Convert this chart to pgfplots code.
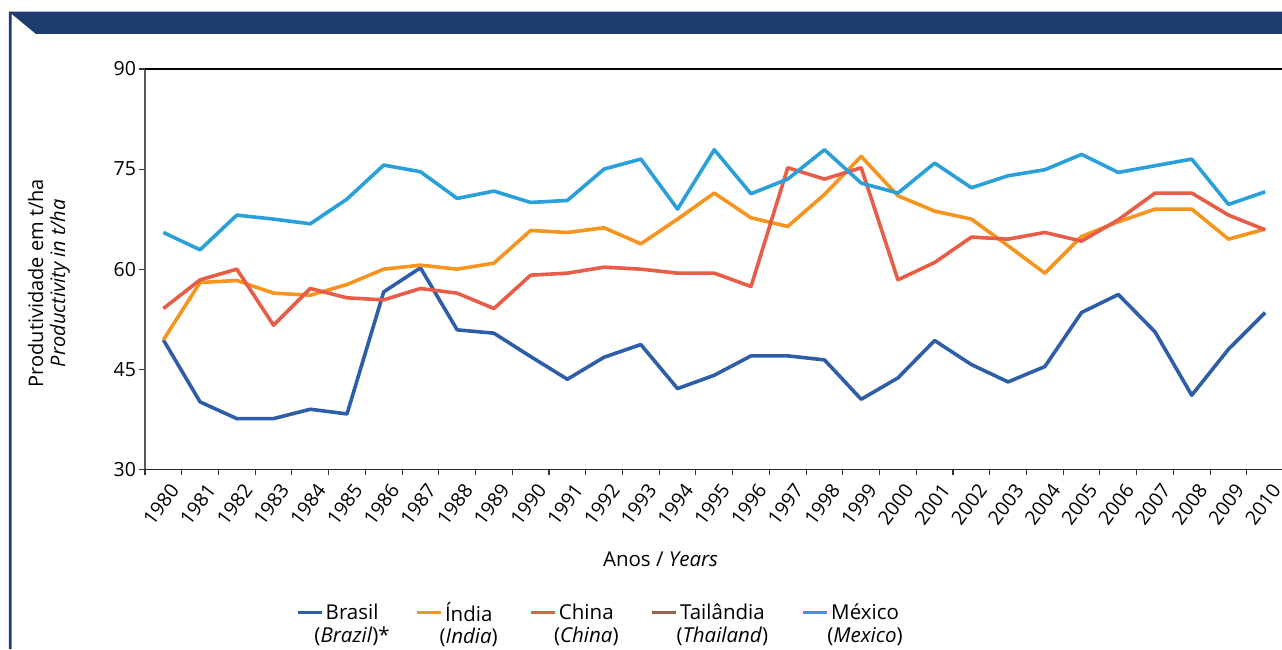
\documentclass[border=0pt]{standalone}
\usepackage{pgfplots}
\usepackage{pgfplotstable}
\pgfplotsset{compat=1.18}
\usepackage{fontspec}
\setmainfont{Open Sans}
\definecolor{cbr}{RGB}{47,94,168}
\definecolor{cin}{RGB}{247,148,30}
\definecolor{cch}{RGB}{232,93,72}
\definecolor{cth}{RGB}{150,100,80}
\definecolor{cmx}{RGB}{41,160,217}
\definecolor{navy}{RGB}{30,60,110}
\pgfplotstableread{
x br in ch mx
0 49.4 49.4 54.1 65.5
1 40.1 58.0 58.4 62.9
2 37.6 58.3 60.0 68.1
3 37.6 56.4 51.6 67.5
4 39.0 56.1 57.1 66.8
5 38.3 57.7 55.7 70.5
6 56.6 60.0 55.4 75.6
7 60.2 60.6 57.1 74.6
8 50.9 60.0 56.4 70.6
9 50.4 60.9 54.1 71.7
10 46.9 65.8 59.1 70.0
11 43.5 65.5 59.4 70.3
12 46.8 66.2 60.3 75.0
13 48.7 63.8 60.0 76.5
14 42.1 67.5 59.4 69.0
15 44.1 71.4 59.4 77.9
16 47.0 67.7 57.4 71.3
17 47.0 66.4 75.2 73.5
18 46.4 71.2 73.5 77.9
19 40.5 76.9 75.2 72.9
20 43.7 71.0 58.4 71.4
21 49.3 68.7 61.0 75.9
22 45.7 67.5 64.8 72.2
23 43.1 63.5 64.5 74.0
24 45.4 59.4 65.5 74.9
25 53.5 64.9 64.2 77.2
26 56.2 67.1 67.4 74.5
27 50.6 69.0 71.4 75.5
28 41.1 69.0 71.4 76.5
29 48.0 64.5 68.1 69.7
30 53.5 66.0 65.9 71.6
}\data
\begin{document}
\begin{tikzpicture}
\path[use as bounding box] (-145pt,-179.7pt) rectangle (1137pt,469.3pt);
\fill[navy] (-136pt,457.6pt) -- (1137pt,457.6pt) -- (1137pt,435.3pt) -- (-109pt,435.3pt) -- (-133.3pt,455.3pt) -- (-133.3pt,-179.7pt) -- (-136pt,-179.7pt) -- cycle;
\begin{axis}[
  at={(0pt,0pt)}, anchor=south west,
  scale only axis, width=1138.6pt, height=400.3pt,
  xmin=-0.5, xmax=30.5, ymin=30, ymax=90,
  clip=false,
  axis x line*=bottom, axis y line*=left,
  x axis line style={-, draw=black!85, line width=1.2pt},
  y axis line style={-, draw=black!65, line width=1.3pt},
  xtick={-0.5,0.5,...,30.5},
  xticklabels={1980,1981,1982,1983,1984,1985,1986,1987,1988,1989,1990,1991,1992,1993,1994,1995,1996,1997,1998,1999,2000,2001,2002,2003,2004,2005,2006,2007,2008,2009,2010,{}},
  xticklabel style={font=\fontsize{19.5}{19.5}\selectfont, xshift=23.5pt, yshift=-6pt, rotate=53, anchor=north east, inner sep=1pt},
  ytick={30,45,60,75,90},
  yticklabel style={font=\fontsize{19.5}{19.5}\selectfont},
  tick align=outside, major tick length=5.5pt,
  tick style={black!80, line width=1.1pt},
  /pgf/number format/assume math mode=true,
  ylabel={Produtividade em t/ha\\\textit{Productivity in t/ha}},
  ylabel style={align=center, font=\fontsize{20}{22}\selectfont, at={(axis description cs:-0.0843,0.465)}, anchor=center},
  xlabel={Anos / \textit{Years}},
  xlabel style={font=\fontsize{20.5}{22}\selectfont, at={(axis description cs:0.4528,-0.2256)}, anchor=center},
  legend columns=5,
  legend style={at={(axis description cs:0.13,-0.3215)}, anchor=north west, draw=none, fill=none,
    font=\fontsize{20.5}{22.5}\selectfont,
    /tikz/every even column/.append style={column sep=35pt}},
  legend cell align=left,
  legend image code/.code={\draw[#1, line width=3.5pt] (0pt,0pt) -- (24pt,0pt);},
  every axis plot/.append style={line width=3.6pt, line join=round, no markers},
]
\addplot[cbr] table[x=x,y=br]{\data};
\addlegendentry{\begin{tabular}[t]{@{}c@{}}Brasil\\\makebox[0pt]{(\textit{Brazil})*}\end{tabular}}
\addplot[cin] table[x=x,y=in]{\data};
\addlegendentry{\begin{tabular}[t]{@{}c@{}}Índia\\\makebox[0pt]{(\textit{India})}\end{tabular}}
\addplot[cch] table[x=x,y=ch]{\data};
\addlegendentry{\begin{tabular}[t]{@{}c@{}}China\\\makebox[0pt]{(\textit{China})}\end{tabular}}
\addlegendimage{cth, line width=3.5pt}
\addlegendentry{\begin{tabular}[t]{@{}c@{}}Tailândia\\\makebox[0pt]{(\textit{Thailand})}\end{tabular}}
\addplot[cmx] table[x=x,y=mx]{\data};
\addlegendentry{\begin{tabular}[t]{@{}c@{}}México\\\makebox[0pt]{(\textit{Mexico})}\end{tabular}}
\draw[black, line width=1.2pt] (axis cs:-0.5,90) -- (axis cs:30.5,90);
\end{axis}
\end{tikzpicture}
\end{document}
